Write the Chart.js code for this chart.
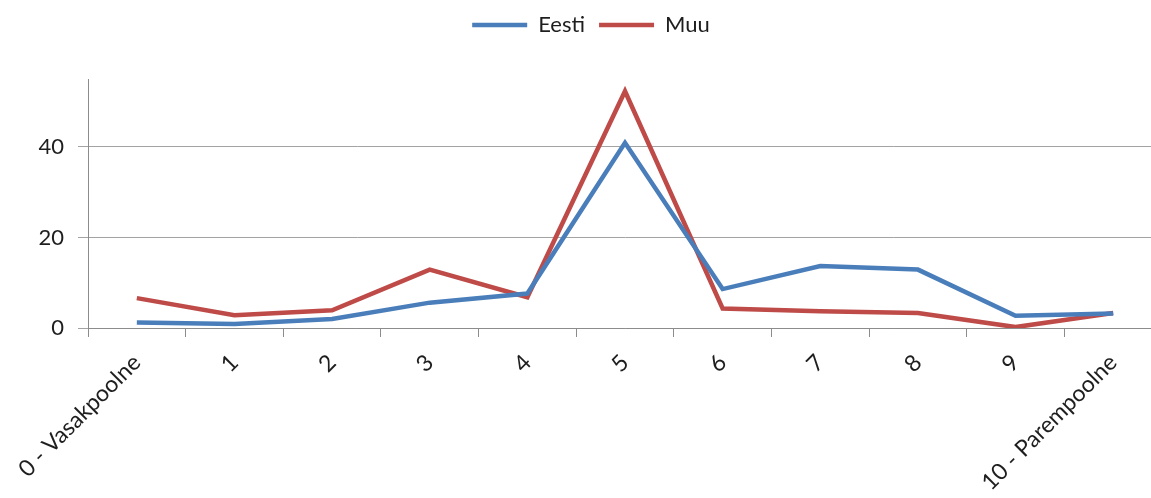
<!DOCTYPE html>
<html>
<head>
<meta charset="utf-8">
<script src="https://cdn.jsdelivr.net/npm/chart.js@4/dist/chart.umd.min.js"></script>
<style>
  html, body { margin: 0; padding: 0; background: #fff; overflow: hidden; }
  #wrap { width: 1162px; height: 498px; }
</style>
</head>
<body>
<div id="wrap"><canvas id="line-chart" width="1162" height="498"></canvas></div>
<script>
// categories along the left-right scale
var scale_labels = ["0 - Vasakpoolne", "1", "2", "3", "4", "5", "6", "7", "8", "9", "10 - Parempoolne"];
// share per answer, %
var data_eesti = [1.2, 0.9, 2.0, 5.6, 7.6, 40.9, 8.6, 13.7, 12.9, 2.7, 3.2];
var data_muu = [6.6, 2.8, 3.9, 12.9, 6.8, 52.3, 4.3, 3.7, 3.3, 0.2, 3.3];
var y_ticks = [0, 20, 40];

var font_family = "Lato, 'Open Sans', sans-serif";
var text_color = "#1e1e1e";

// extra room between the legend and the plot, legend nudged right a bit
var legendGap = {
    id: "legendGap",
    beforeInit: function (chart) {
        var fit = chart.legend.fit;
        chart.legend.fit = function () {
            fit.call(this);
            this.height += 33;
        };
    },
    afterLayout: function (chart) {
        chart.legend.left += 10;
        chart.legend.right += 10;
    }
};

var ctx = document.getElementById("line-chart").getContext("2d");
var myChart = new Chart(ctx, {
    type: "line",
    data: {
        labels: scale_labels,
        datasets: [{
                label: "Eesti",
                data: data_eesti,
                borderColor: "rgba(74, 126, 187, 1)",
                backgroundColor: "rgba(74, 126, 187, 1)",
                borderWidth: 4.5,
                pointRadius: 0,
                tension: 0,
                fill: false
            },
            {
                label: "Muu",
                data: data_muu,
                borderColor: "rgba(190, 75, 72, 1)",
                backgroundColor: "rgba(190, 75, 72, 1)",
                borderWidth: 4.5,
                pointRadius: 0,
                tension: 0,
                fill: false
            }
        ]
    },
    plugins: [legendGap],
    options: {
        responsive: false,
        animation: false,
        layout: { padding: { top: 0, right: 0, left: 0, bottom: 0 } },
        plugins: {
            tooltip: { enabled: false },
            legend: {
                position: "top",
                align: "center",
                labels: {
                    boxWidth: 55,
                    boxHeight: 0,
                    padding: 14,
                    color: text_color,
                    font: { family: font_family, size: 22 },
                    generateLabels: function (chart) {
                        return chart.data.datasets.map(function (ds, i) {
                            return {
                                text: ds.label,
                                strokeStyle: ds.borderColor,
                                fillStyle: ds.borderColor,
                                lineWidth: 4.5,
                                lineCap: "round",
                                fontColor: text_color,
                                datasetIndex: i
                            };
                        });
                    }
                }
            }
        },
        scales: {
            x: {
                offset: true,
                grid: {
                    offset: true,
                    drawOnChartArea: false,
                    drawTicks: true,
                    tickLength: 9,
                    color: "#8c8c8c"
                },
                border: { color: "#8c8c8c", width: 1 },
                ticks: {
                    autoSkip: false,
                    maxRotation: 45,
                    minRotation: 45,
                    padding: 12,
                    color: text_color,
                    font: { family: font_family, size: 23 }
                },
                afterFit: function (s) { s.height = 170; }
            },
            y: {
                min: 0,
                max: 55,
                grid: {
                    color: "#a3a3a3",
                    tickLength: 10,
                    drawTicks: true
                },
                border: { color: "#8c8c8c", width: 1 },
                ticks: {
                    stepSize: 20,
                    padding: 14,
                    color: text_color,
                    font: { family: font_family, size: 22 }
                },
                afterBuildTicks: function (s) {
                    s.ticks = y_ticks.map(function (v) { return { value: v }; });
                },
                afterFit: function (s) { s.width = 88; }
            }
        }
    }
});
</script>
</body>
</html>
